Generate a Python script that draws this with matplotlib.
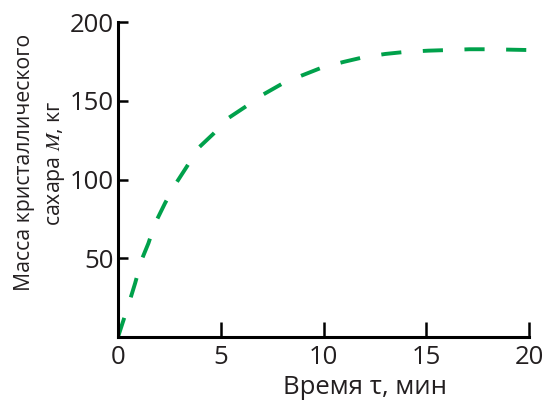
import matplotlib
matplotlib.use("Agg")
import matplotlib.pyplot as plt

# Data
time_min = [0, 0.5, 0.83, 1.15, 1.48, 1.8, 2.29, 2.77, 3.34, 3.91, 4.64, 5.37, 6.18,
            7.07, 7.96, 8.94, 9.91, 10.96, 11.94, 13.0, 13.97, 15.1, 16.07, 17.1,
            18.1, 19.2, 20.0]
mass_kg = [0, 20, 34, 49, 59.5, 72, 85, 96.5, 108, 120, 129, 139, 146,
           154, 160.6, 166, 171, 174.6, 177.6, 179.7, 181, 181.8, 182.2, 182.7,
           182.7, 182.4, 182.2]
x_ticks = [0, 5, 10, 15, 20]
y_ticks = [50, 100, 150, 200]

plt.rcParams['font.family'] = ['Open Sans', 'DejaVu Sans']
plt.rcParams['mathtext.fontset'] = 'stix'
plt.rcParams['lines.scale_dashes'] = False
txt = '#231F20'

fig = plt.figure(figsize=(5.53, 4.03), dpi=100)
ax = fig.add_axes([118/553, 1-337/403, (529-118)/553, (337-22)/403])

line, = ax.plot(time_min, mass_kg, color='#00A14B', lw=2.8, solid_capstyle='butt',
                dash_capstyle='butt')
line.set_dashes((14.5, 15.5))

ax.set_xlim(0, 20)
ax.set_ylim(0, 200)
ax.set_xticks(x_ticks)
ax.set_yticks(y_ticks)
ax.set_xticklabels([str(v) for v in x_ticks])
ax.set_yticklabels([str(v) for v in y_ticks])

for s in ['top', 'right']:
    ax.spines[s].set_visible(False)
for s in ['left', 'bottom']:
    ax.spines[s].set_linewidth(2.2)
    ax.spines[s].set_color('black')
    ax.spines[s].set_capstyle('projecting')

ax.tick_params(axis='x', direction='in', length=11, width=1.8, pad=6,
               labelsize=18.5, labelcolor=txt)
ax.tick_params(axis='y', direction='in', length=7.5, width=1.8, pad=3,
               labelsize=18.5, labelcolor=txt)

fig.text(25/553, 1-162/403, 'Масса кристаллического', rotation=90,
         ha='center', va='center', fontsize=15.3, color=txt)
fig.text(56/553, 1-163/403, 'сахара $M$, кг', rotation=90,
         ha='center', va='center', fontsize=15.3, color=txt)
fig.text(365/553, 1-388/403, 'Время τ, мин', ha='center', va='center',
         fontsize=18.5, color=txt)

fig.savefig('out.png', dpi=100)
